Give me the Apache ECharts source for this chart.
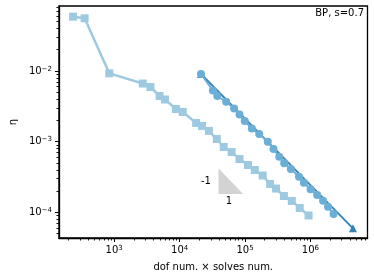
<!DOCTYPE html>
<html><head><meta charset="utf-8">
<script src="https://cdn.jsdelivr.net/npm/echarts@6/dist/echarts.min.js"></script>
<style>html,body{margin:0;padding:0;background:#fff}#c{width:374px;height:279px}</style>
</head><body><div id="c"></div>
<script>
// light-blue squares series
const squareX = [235, 353, 841, 2737, 3580, 4943, 5984, 8770, 11170, 17860, 21990, 28050, 37060, 47230, 62370, 82370, 110700, 141000, 186200, 241600, 297800, 392800, 518800, 685400, 935900];
const squareY = [0.0588, 0.0557, 0.00927, 0.00665, 0.00594, 0.00443, 0.00395, 0.00290, 0.00263, 0.00184, 0.00167, 0.00142, 0.00109, 0.000840, 0.000713, 0.000567, 0.000467, 0.000397, 0.000332, 0.000252, 0.000217, 0.000170, 0.000145, 0.000115, 0.0000902];
// medium-blue circles series
const circleX = [21230, 32200, 37670, 51490, 68030, 82370, 98950, 127000, 164800, 222900, 272700, 333600, 396900, 501200, 668400, 794300, 1004000, 1268000, 1560000, 1855000, 2254000];
const circleY = [0.00907, 0.00530, 0.00443, 0.00367, 0.00294, 0.00242, 0.00196, 0.00153, 0.00128, 0.000998, 0.000787, 0.000612, 0.000494, 0.000410, 0.000319, 0.000262, 0.000212, 0.000176, 0.000146, 0.000120, 0.0000946];
// dark-blue triangles series
const triX = [21230, 4467000];
const triY = [0.00907, 0.0000594];
// slope triangle (-1)
const slopeX = [39300, 93500];
const slopeY = [0.00042, 0.000182];
// ticks
const xMajor = [1e3, 1e4, 1e5, 1e6];
const yMajor = [1e-4, 1e-3, 1e-2];
const xMin = 143, xMax = 7.45e6, yMin = 4.33e-5, yMax = 0.0832;
function minorTicks(lo, hi) {
  const out = [];
  for (let e = -6; e <= 7; e++) for (let m = 2; m <= 9; m++) {
    const v = m * Math.pow(10, e);
    if (v > lo && v < hi) out.push(v);
  }
  return out;
}
const xMinor = minorTicks(xMin, xMax);
const yMinor = minorTicks(yMin, yMax);
function fmt(v) {
  const e = Math.round(Math.log10(v));
  const s = String(e).replace('-', '−');
  return '{b|10}{s|' + s + '}';
}
const font = 'DejaVu Sans';
const richLab = {
  b: {fontSize: 10, fontFamily: font, color: '#000'},
  s: {fontSize: 7, fontFamily: font, color: '#000', verticalAlign: 'top', padding: [0,0,4,0]}
};
const zip = (a, b) => a.map((v, i) => [v, b[i]]);
const chart = echarts.init(document.getElementById('c'));
const baseX = {type: 'log', logBase: 10, min: xMin, max: xMax, gridIndex: 0, position: 'bottom', splitLine: {show: false}};
const baseY = {type: 'log', logBase: 10, min: yMin, max: yMax, gridIndex: 0, position: 'left', splitLine: {show: false}};
chart.setOption({
  animation: false,
  textStyle: {fontFamily: font},
  grid: {left: 55, right: 6.5, top: 6, bottom: 41, show: true, borderColor: '#000', borderWidth: 1.3},
  xAxis: [
    Object.assign({}, baseX, {
      axisLine: {show: true, onZero: false, lineStyle: {color: '#000', width: 1.3}},
      axisTick: {show: true, inside: false, length: 4, customValues: xMajor, lineStyle: {color: '#000', width: 1}},
      axisLabel: {show: true, customValues: xMajor, formatter: fmt, margin: 7, rich: richLab},
      name: 'dof num. × solves num.', nameLocation: 'middle', nameGap: 24,
      nameTextStyle: {fontSize: 10, fontFamily: font, color: '#000'}
    }),
    Object.assign({}, baseX, {
      axisLine: {show: false},
      axisTick: {show: true, inside: false, length: 2.5, customValues: xMinor, lineStyle: {color: '#000', width: 0.9}},
      axisLabel: {show: false}
    })
  ],
  yAxis: [
    Object.assign({}, baseY, {
      axisLine: {show: true, onZero: false, lineStyle: {color: '#000', width: 1.3}},
      axisTick: {show: true, inside: false, length: 4, customValues: yMajor, lineStyle: {color: '#000', width: 1}},
      axisLabel: {show: true, customValues: yMajor, formatter: fmt, margin: 7, rich: richLab},
      name: 'η', nameLocation: 'middle', nameGap: 40, nameRotate: 90,
      nameTextStyle: {fontSize: 10, fontFamily: font, color: '#000'}
    }),
    Object.assign({}, baseY, {
      axisLine: {show: false},
      axisTick: {show: true, inside: false, length: 2.5, customValues: yMinor, lineStyle: {color: '#000', width: 0.9}},
      axisLabel: {show: false}
    })
  ],
  series: [
    {
      type: 'custom', xAxisIndex: 0, yAxisIndex: 0, z: 1,
      data: [[slopeX[0], slopeY[0], slopeX[1], slopeY[1]]],
      renderItem: function (params, api) {
        const p1 = api.coord([api.value(0), api.value(1)]);
        const p2 = api.coord([api.value(0), api.value(3)]);
        const p3 = api.coord([api.value(2), api.value(3)]);
        return {type: 'polygon', shape: {points: [p1, p2, p3]}, style: {fill: '#d3d3d3'}};
      }
    },
    {
      type: 'line', xAxisIndex: 0, yAxisIndex: 0, z: 2,
      data: zip(squareX, squareY), symbol: 'rect', symbolSize: 8,
      itemStyle: {color: '#9ecae1'}, lineStyle: {color: '#9ecae1', width: 2.5}
    },
    {
      type: 'line', xAxisIndex: 0, yAxisIndex: 0, z: 3,
      data: zip(triX, triY), symbol: 'triangle', symbolSize: 8,
      itemStyle: {color: '#3182bd'}, lineStyle: {color: '#3182bd', width: 1.8}
    },
    {
      type: 'line', xAxisIndex: 0, yAxisIndex: 0, z: 4,
      data: zip(circleX, circleY), symbol: 'circle', symbolSize: 8,
      itemStyle: {color: '#6baed6'}, lineStyle: {color: '#6baed6', width: 2}
    }
  ],
  graphic: [
    {type: 'text', right: 10, top: 8, style: {text: 'BP, s=0.7', fontSize: 10, fontFamily: font, fill: '#000'}},
    {type: 'text', x: 206, y: 181, style: {text: '-1', fontSize: 10, fontFamily: font, fill: '#000', align: 'center', verticalAlign: 'middle'}},
    {type: 'text', x: 229, y: 201, style: {text: '1', fontSize: 10, fontFamily: font, fill: '#000', align: 'center', verticalAlign: 'middle'}}
  ]
});
</script>
</body></html>
